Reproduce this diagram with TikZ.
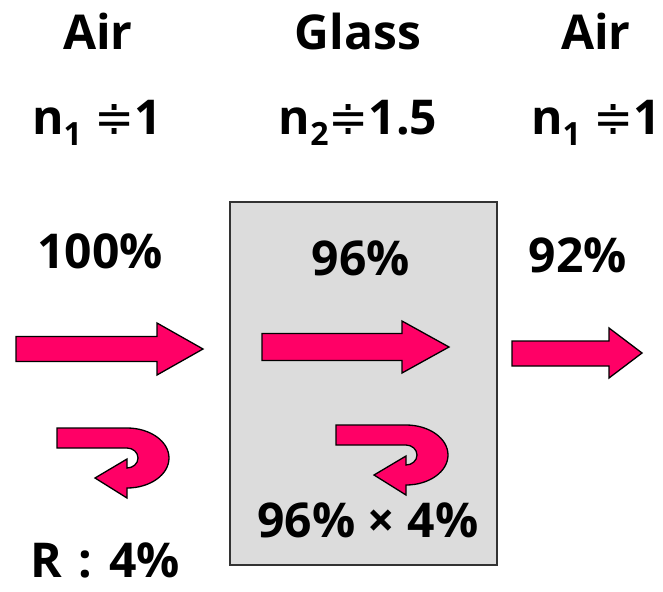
\documentclass[tikz,border=0pt]{standalone}
\usepackage{fontspec}
\setmainfont{Open Sans}
\newfontfamily\symfam{DejaVu Sans}
\usetikzlibrary{positioning}
\definecolor{beamPink}{HTML}{FF0066}
\definecolor{glassGrey}{HTML}{DCDCDC}
\definecolor{edgeGrey}{HTML}{333333}
\newcommand{\sub}[1]{\raisebox{-0.22em}{\fontsize{32}{32}\selectfont #1}}
\newcommand{\approxeq}{{\symfam\mdseries ≑}}

\begin{document}
\begin{tikzpicture}[
    x=1pt, y=1pt,
    % all labels share one heavy sans face; anchored on their baselines
    lab/.style={anchor=base, inner sep=0pt, font=\bfseries\fontsize{48}{52}\selectfont},
    % pink block arrows, thin black outline
    beam/.style={fill=beamPink, draw=black, line width=1.3pt, line join=miter},
    uturn/.pic={
      \draw[beam] (0,0) -- (70,0)
          arc[start angle=90, end angle=-90, x radius=42, y radius=30]
          -- (70,-70) -- (38,-50) -- (70,-31) -- (70,-40)
          arc[start angle=-90, end angle=90, x radius=11, y radius=10]
          -- (0,-20) -- cycle;
    },
]
\useasboundingbox (0,0) rectangle (663,-591);

%================= the glass slab =================%
\draw[fill=glassGrey, draw=edgeGrey, line width=1.5pt] (230,-202) rectangle (497,-565);

%================= media and indices =================%
\node[lab] (airL)   at (98,-50)  {Air};
\node[lab] (glass)  at (358,-50) {Glass};
\node[lab] (airR)   at (596,-50) {Air};
\node[lab] (indexL) at (97,-135)  {n\sub{1} \approxeq1};
\node[lab] (indexG) at (358,-135) {n\sub{2}\approxeq1.5};
\node[lab] (indexR) at (596,-135) {n\sub{1} \approxeq1};

%================= transmitted fractions =================%
\node[lab] (inc)   at (100,-268) {100\%};
\node[lab] (inner) at (361,-275) {96\%};
\node[lab] (out)   at (578,-272) {92\%};

%================= straight beams =================%
\draw[beam] (16,-336.5) -- (157,-336.5) -- (157,-323) -- (203,-349)
            -- (157,-375) -- (157,-361.5) -- (16,-361.5) -- cycle;
\draw[beam] (262,-333.5) -- (402,-333.5) -- (402,-321) -- (449,-347)
            -- (402,-373) -- (402,-360.5) -- (262,-360.5) -- cycle;
\draw[beam] (512,-341) -- (609,-341) -- (609,-328) -- (642,-353)
            -- (609,-378) -- (609,-366) -- (512,-366) -- cycle;

%================= reflections =================%
\pic at (57,-428)  {uturn};
\pic at (336,-425) {uturn};
\node[lab] (reflL) at (105,-577) {R\hspace{0.35em}:\hspace{0.35em}4\%};
\node[lab] (reflG) at (368,-537) {96\% × 4\%};

\end{tikzpicture}
\end{document}
